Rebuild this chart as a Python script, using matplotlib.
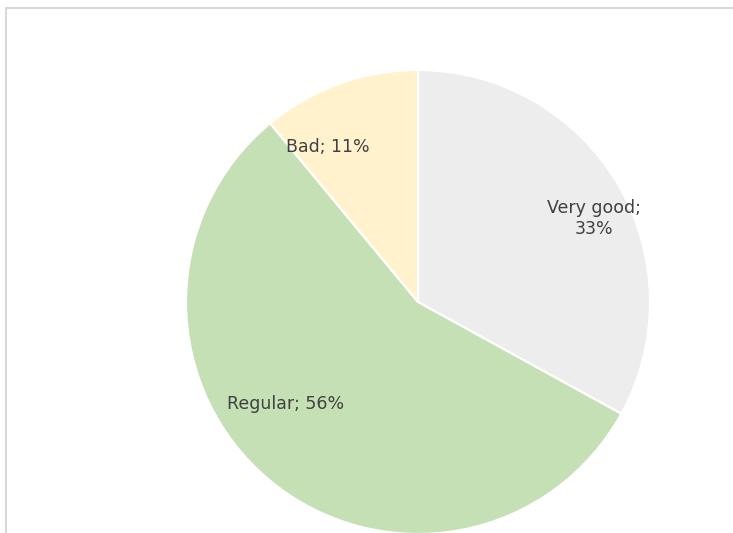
import matplotlib
matplotlib.use("Agg")
import matplotlib.pyplot as plt
from matplotlib.patches import Rectangle

categories = ["Very good", "Regular", "Bad"]
values = [33, 56, 11]
colors = ["#EDEDED", "#C5E0B4", "#FFF2CC"]

W, H = 733, 533
fig = plt.figure(figsize=(W / 100, H / 100), dpi=100)
fig.patch.set_facecolor("white")

# chart border (cropped frame)
fig.patches.append(Rectangle((6 / W, -0.1), 1.2, (H - 8) / H + 0.1, transform=fig.transFigure,
                             fill=False, edgecolor="#D9D9D9", linewidth=1.5))

cx, cy, r = 418, 302, 232
ax = fig.add_axes([(cx - r) / W, (H - cy - r) / H, 2 * r / W, 2 * r / H])
ax.pie(values, colors=colors, startangle=90, counterclock=False,
       wedgeprops=dict(edgecolor="white", linewidth=1.6))
ax.set_xlim(-1, 1)
ax.set_ylim(-1, 1)
ax.set_axis_off()

label_pos = [(0.76, 0.36), (-0.57, -0.44), (-0.39, 0.668)]
fam = ["Liberation Sans Narrow", "DejaVu Sans"]
for cat, v, (x, y) in zip(categories, values, label_pos):
    txt = f"{cat};\n{v}%" if cat == "Very good" else f"{cat}; {v}%"
    ax.text(x, y, txt, ha="center", va="center", fontsize=12.5, color="#404040",
            family=fam, linespacing=1.25, clip_on=False)

fig.savefig("out.png", dpi=100)
